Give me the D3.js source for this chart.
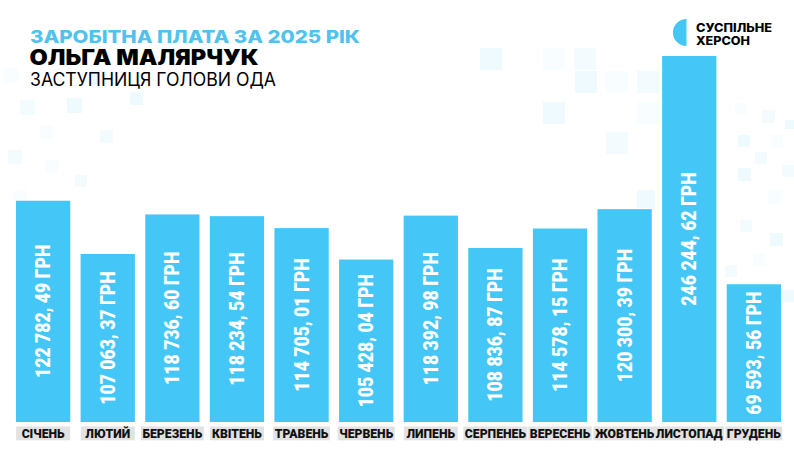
<!DOCTYPE html>
<html>
<head>
<meta charset="utf-8">
<script src="https://cdn.jsdelivr.net/npm/d3@7"></script>
<style>
  html, body { margin: 0; padding: 0; background: #fff; }
  svg { display: block; }
</style>
</head>
<body>
<svg id="chart" width="794" height="454"></svg>
<script>
// data
const months = ["СІЧЕНЬ", "ЛЮТИЙ", "БЕРЕЗЕНЬ", "КВІТЕНЬ", "ТРАВЕНЬ", "ЧЕРВЕНЬ",
                "ЛИПЕНЬ", "СЕРПЕНЕЬ", "ВЕРЕСЕНЬ", "ЖОВТЕНЬ", "ЛИСТОПАД", "ГРУДЕНЬ"];
const salary = [122782.49, 107063.37, 118736.60, 118234.54, 114705.01, 105428.04,
                118392.98, 108836.87, 114578.15, 120300.39, 246244.62, 69593.56];
const salaryLabels = ["122 782, 49 ГРН", "107 063, 37 ГРН", "118 736, 60 ГРН", "118 234, 54 ГРН",
                      "114 705, 01 ГРН", "105 428, 04 ГРН", "118 392, 98 ГРН", "108 836, 87 ГРН",
                      "114 578, 15 ГРН", "120 300, 39 ГРН", "246 244, 62 ГРН", "69 593, 56 ГРН"];

const titleText = "ЗАРОБІТНА ПЛАТА ЗА 2025 РІК";
const nameText = "ОЛЬГА МАЛЯРЧУК";
const roleText = "ЗАСТУПНИЦЯ ГОЛОВИ ОДА";
const logoLines = ["СУСПІЛЬНЕ", "ХЕРСОН"];

const blue = "#44c7f7";

const svg = d3.select("#chart");

// faint pixel squares in the background (decoration only)
const decor = [
  [3, 68, 15], [20, 100, 15], [67, 98, 15], [40, 125, 14], [8, 150, 14], [90, 70, 14],
  [45, 160, 13], [100, 130, 13], [130, 92, 13], [14, 190, 13], [75, 175, 12],
  [480, 48, 22], [543, 48, 22], [574, 48, 22], [575, 71, 22], [606, 71, 22], [637, 71, 22],
  [543, 102, 22], [637, 102, 22], [606, 132, 22], [637, 190, 18],
  [735, 103, 12], [762, 110, 13], [738, 135, 12], [770, 135, 13], [755, 152, 12],
  [738, 168, 13], [768, 190, 14], [782, 165, 12], [770, 233, 13], [753, 253, 13],
  [725, 265, 12], [782, 290, 12], [760, 300, 12], [740, 220, 12], [785, 120, 9]
];
svg.append("g")
  .selectAll("rect")
  .data(decor)
  .join("rect")
  .attr("x", d => d[0])
  .attr("y", d => d[1])
  .attr("width", d => d[2])
  .attr("height", d => d[2])
  .attr("fill", blue)
  .attr("opacity", (d, i) => 0.04 + (i % 3) * 0.025);

// header
const header = svg.append("g").attr("font-family", "Inter, 'Noto Sans', sans-serif");
header.append("text")
  .attr("x", 30).attr("y", 42.7)
  .attr("font-size", 17.8).attr("font-weight", 800)
  .attr("fill", "#4fc3ee")
  .attr("textLength", 330).attr("lengthAdjust", "spacingAndGlyphs")
  .text(titleText);
header.append("text")
  .attr("x", 29.5).attr("y", 65.3)
  .attr("font-size", 21).attr("font-weight", 900)
  .attr("fill", "#000")
  .attr("textLength", 229).attr("lengthAdjust", "spacingAndGlyphs")
  .text(nameText);
header.append("text")
  .attr("x", 30).attr("y", 86.3)
  .attr("font-size", 18).attr("font-weight", 400)
  .attr("fill", "#000")
  .attr("textLength", 246).attr("lengthAdjust", "spacingAndGlyphs")
  .text(roleText);

// logo
const logo = svg.append("g");
logo.append("path")
  .attr("d", d3.arc()({ innerRadius: 0, outerRadius: 13.6, startAngle: Math.PI, endAngle: 2 * Math.PI }))
  .attr("transform", "translate(686.5,32.5)")
  .attr("fill", blue);
logo.selectAll("text")
  .data(logoLines)
  .join("text")
  .attr("x", 696)
  .attr("y", (d, i) => 31.5 + i * 13.7)
  .attr("font-family", "Inter, 'Noto Sans', sans-serif")
  .attr("font-size", 11.4)
  .attr("font-weight", 800)
  .attr("fill", "#000")
  .attr("textLength", (d, i) => i === 0 ? 76 : 54)
  .attr("lengthAdjust", "spacingAndGlyphs")
  .text(d => d);

// scales
const baseY = 422;
const x = d3.scaleBand()
  .domain(months)
  .range([16, 781])
  .paddingInner(0.16)
  .paddingOuter(0);

// piecewise scale: the source graphic stretches the middle range
const y = d3.scaleLinear()
  .domain([0, 105000, 123000, 246244])
  .range([baseY - 92, baseY - 161, baseY - 222, baseY - 366]);

const bars = svg.append("g")
  .selectAll("g")
  .data(months.map((m, i) => ({ month: m, value: salary[i], label: salaryLabels[i] })))
  .join("g");

bars.append("rect")
  .attr("x", d => x(d.month))
  .attr("y", d => y(d.value))
  .attr("width", x.bandwidth())
  .attr("height", d => baseY - y(d.value))
  .attr("fill", blue);

bars.append("text")
  .attr("transform", d => {
    const cx = x(d.month) + x.bandwidth() / 2 + 7;
    const cy = (y(d.value) + baseY) / 2;
    return `translate(${cx},${cy}) rotate(-90) scale(0.86,1)`;
  })
  .attr("text-anchor", "middle")
  .attr("font-family", "Roboto, 'Liberation Sans', sans-serif")
  .attr("font-size", 20.5)
  .attr("font-weight", 900)
  .attr("fill", "#fff")
  .text(d => d.label);

// month labels with grey boxes
const labels = svg.append("g")
  .selectAll("g")
  .data(months)
  .join("g");

labels.append("text")
  .attr("x", d => x(d) + x.bandwidth() / 2)
  .attr("y", 437.5)
  .attr("text-anchor", "middle")
  .attr("font-family", "Roboto, 'Liberation Sans', Arial, sans-serif")
  .attr("font-size", 12.2)
  .attr("font-weight", 900)
  .attr("fill", "#111")
  .text(d => d);

labels.insert("rect", "text")
  .each(function(d) {
    const tw = d3.select(this.parentNode).select("text").node().getComputedTextLength();
    const w = Math.max(54, tw + 3);
    d3.select(this)
      .attr("x", x(d) + x.bandwidth() / 2 - w / 2)
      .attr("y", 426.5)
      .attr("width", w)
      .attr("height", 13.8)
      .attr("fill", "#e2e2e2");
  });
</script>
</body>
</html>
